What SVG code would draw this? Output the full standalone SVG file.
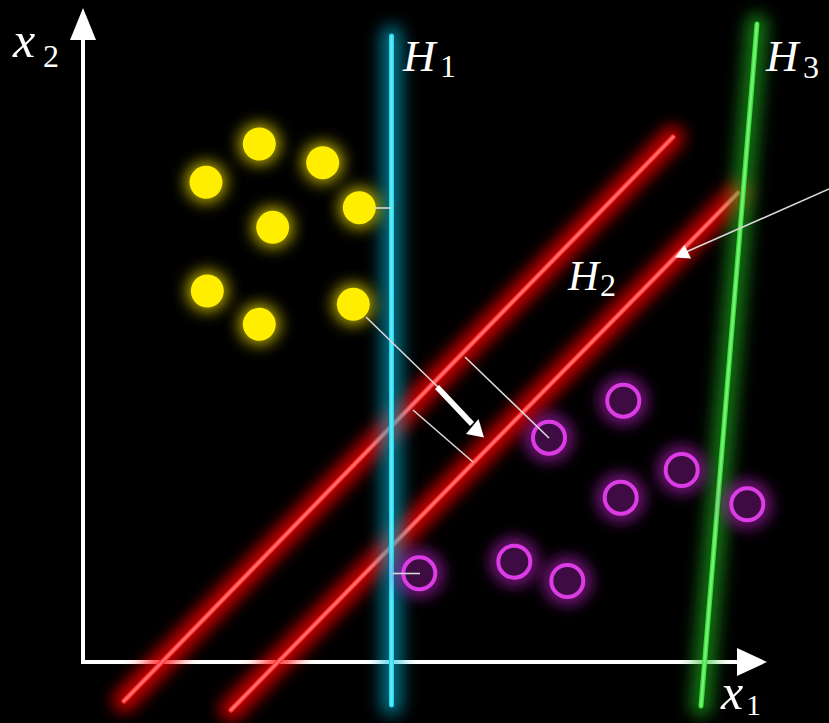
<svg xmlns="http://www.w3.org/2000/svg" width="829" height="723" viewBox="0 0 829 723">
<style>
.lbl{font-family:"Liberation Serif","Times New Roman",serif;font-style:italic;fill:#fff}
.sub{font-family:"Liberation Serif","Times New Roman",serif;fill:#fff}
.axis{stroke:#fff;stroke-width:4;fill:none}
.thin{stroke:#d8d8d8;stroke-width:1.6;fill:none}
.halo{stroke-linecap:round;fill:none;stroke-width:22;opacity:0.8;filter:url(#blur)}
.yel{fill:#ffee00}
.yh{fill:#e8d800;opacity:0.85;filter:url(#blur)}
.pur{fill:#3e0c42;stroke:#dc3ce4;stroke-width:4}
.ph{fill:none;stroke:#c020c8;stroke-width:14;opacity:0.75;filter:url(#blur)}
</style>
<defs>
<filter id="blur" filterUnits="userSpaceOnUse" x="0" y="0" width="829" height="723">
<feGaussianBlur stdDeviation="8"/>
</filter>
</defs>
<rect width="829" height="723" fill="#000"/>

<g id="axes">
<line class="axis" x1="81" y1="662" x2="742" y2="662"/>
<polygon points="767,662 737,648 737,676" fill="#fff"/>
<line class="axis" x1="83" y1="664" x2="83" y2="34"/>
<polygon points="83,8 70,40 96,40" fill="#fff"/>
</g>

<g id="H2">
<line class="halo" x1="124" y1="701" x2="673" y2="137" stroke="#ff0000"/>
<line class="halo" x1="231" y1="710" x2="738" y2="193" stroke="#ff0000"/>
<line x1="124" y1="701" x2="673" y2="137" stroke="#ff3030" stroke-width="5" stroke-linecap="round"/>
<line x1="231" y1="710" x2="738" y2="193" stroke="#ff3030" stroke-width="5" stroke-linecap="round"/>
<line x1="124" y1="701" x2="673" y2="137" stroke="#ff7070" stroke-width="2.5" stroke-linecap="round"/>
<line x1="231" y1="710" x2="738" y2="193" stroke="#ff7070" stroke-width="2.5" stroke-linecap="round"/>
</g>

<g id="H1">
<line class="halo" x1="391.5" y1="36" x2="391.5" y2="705" stroke="#00b8d8" style="opacity:0.6"/>
<line x1="391.5" y1="36" x2="391.5" y2="705" stroke="#22d6ec" stroke-width="5" stroke-linecap="round"/>
<line x1="391.5" y1="36" x2="391.5" y2="705" stroke="#5aeaf8" stroke-width="2.5" stroke-linecap="round"/>
</g>

<g id="H3">
<line class="halo" x1="757" y1="24" x2="701" y2="706" stroke="#20c020" style="opacity:0.6"/>
<line x1="757" y1="24" x2="701" y2="706" stroke="#3ade3a" stroke-width="5" stroke-linecap="round"/>
<line x1="757" y1="24" x2="701" y2="706" stroke="#74f074" stroke-width="2.5" stroke-linecap="round"/>
</g>

<g id="yellow-points">
<g id="y1"><circle class="yh" cx="259.3" cy="144" r="20"/><circle class="yel" cx="259.3" cy="144" r="16.5"/></g>
<g id="y2"><circle class="yh" cx="322.7" cy="162.7" r="20"/><circle class="yel" cx="322.7" cy="162.7" r="16.5"/></g>
<g id="y3"><circle class="yh" cx="206" cy="182.3" r="20"/><circle class="yel" cx="206" cy="182.3" r="16.5"/></g>
<g id="y4"><circle class="yh" cx="359.3" cy="207.7" r="20"/><circle class="yel" cx="359.3" cy="207.7" r="16.5"/></g>
<g id="y5"><circle class="yh" cx="272.7" cy="227.3" r="20"/><circle class="yel" cx="272.7" cy="227.3" r="16.5"/></g>
<g id="y6"><circle class="yh" cx="207.3" cy="291" r="20"/><circle class="yel" cx="207.3" cy="291" r="16.5"/></g>
<g id="y7"><circle class="yh" cx="353.3" cy="304.3" r="20"/><circle class="yel" cx="353.3" cy="304.3" r="16.5"/></g>
<g id="y8"><circle class="yh" cx="259.3" cy="324.3" r="20"/><circle class="yel" cx="259.3" cy="324.3" r="16.5"/></g>
</g>

<g id="purple-points">
<g id="p1"><circle class="ph" cx="623.3" cy="400.7" r="16"/><circle class="pur" cx="623.3" cy="400.7" r="16"/></g>
<g id="p2"><circle class="ph" cx="549" cy="437.7" r="16"/><circle class="pur" cx="549" cy="437.7" r="16"/></g>
<g id="p3"><circle class="ph" cx="681.7" cy="470" r="16"/><circle class="pur" cx="681.7" cy="470" r="16"/></g>
<g id="p4"><circle class="ph" cx="620.7" cy="497.7" r="16"/><circle class="pur" cx="620.7" cy="497.7" r="16"/></g>
<g id="p5"><circle class="ph" cx="747.3" cy="504.3" r="16"/><circle class="pur" cx="747.3" cy="504.3" r="16"/></g>
<g id="p6"><circle class="ph" cx="514.3" cy="561.7" r="16"/><circle class="pur" cx="514.3" cy="561.7" r="16"/></g>
<g id="p7"><circle class="ph" cx="567.3" cy="581" r="16"/><circle class="pur" cx="567.3" cy="581" r="16"/></g>
<g id="p8"><circle class="ph" cx="419.3" cy="573.3" r="16"/><circle class="pur" cx="419.3" cy="573.3" r="16"/></g>
</g>

<g id="connectors">
<line class="thin" x1="366" y1="317" x2="440" y2="389"/>
<line class="thin" x1="465" y1="357" x2="549" y2="438"/>
<line class="thin" x1="413" y1="410" x2="473" y2="462"/>
<line class="thin" x1="375" y1="208" x2="391" y2="208"/>
<line class="thin" x1="393" y1="573.5" x2="420" y2="573.5"/>
<line class="thin" x1="829" y1="189" x2="686" y2="252"/>
<polygon points="675,257.5 684.5,245 691,258.5" fill="#fff"/>
<line x1="437" y1="387" x2="472" y2="424" stroke="#fff" stroke-width="5.5"/>
<polygon points="484,437.5 466,434 478.5,419" fill="#fff"/>
</g>

<g id="labels">
<text class="lbl" x="13" y="57" font-size="50">x</text>
<text class="sub" x="43" y="67" font-size="32">2</text>
<text class="lbl" x="403" y="71" font-size="45">H</text>
<text class="sub" x="440" y="77" font-size="32">1</text>
<text class="lbl" x="766" y="71" font-size="45">H</text>
<text class="sub" x="803" y="78" font-size="32">3</text>
<text class="lbl" x="568" y="290" font-size="43">H</text>
<text class="sub" x="600" y="296" font-size="32">2</text>
<text class="lbl" x="721" y="709" font-size="50">x</text>
<text class="sub" x="746" y="715" font-size="30">1</text>
</g>
</svg>
